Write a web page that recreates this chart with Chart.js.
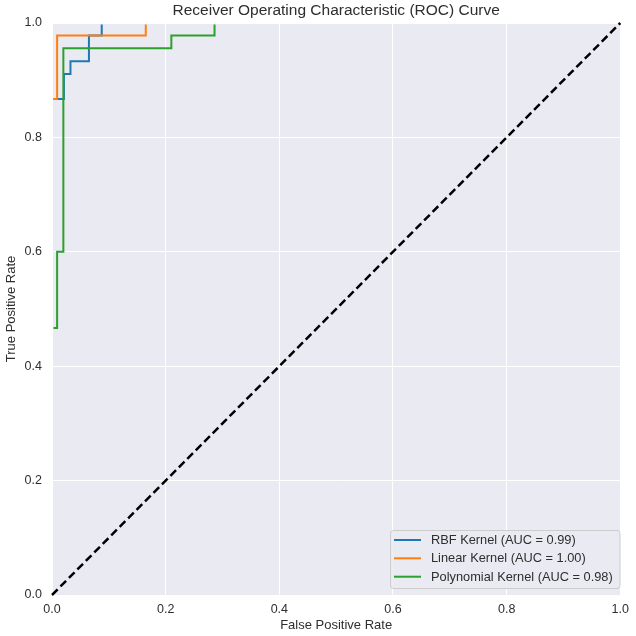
<!DOCTYPE html>
<html>
<head>
<meta charset="utf-8">
<script src="https://cdn.jsdelivr.net/npm/chart.js@4"></script>
<style>
  html, body { margin: 0; padding: 0; background: #ffffff; }
  #wrap { width: 636px; height: 636px; }
</style>
</head>
<body>
<div id="wrap"><canvas id="c" width="636" height="636"></canvas></div>
<script>
// ROC curve data
const rbfFPR = [0, 0, 0.021, 0.021, 0.0325, 0.0325, 0.065, 0.065, 0.0875, 0.0875, 1];
const rbfTPR = [0, 0.867, 0.867, 0.911, 0.911, 0.933, 0.933, 0.978, 0.978, 1, 1];
const linFPR = [0, 0, 0.009, 0.009, 0.165, 0.165, 1];
const linTPR = [0, 0.867, 0.867, 0.978, 0.978, 1, 1];
const polyFPR = [0, 0, 0.009, 0.009, 0.02, 0.02, 0.21, 0.21, 0.286, 0.286, 1];
const polyTPR = [0, 0.467, 0.467, 0.6, 0.6, 0.956, 0.956, 0.978, 0.978, 1, 1];
const diagFPR = [0, 1];
const diagTPR = [0, 1];
const seriesLabels = ['RBF Kernel (AUC = 0.99)', 'Linear Kernel (AUC = 1.00)', 'Polynomial Kernel (AUC = 0.98)'];
const tickValues = [0, 0.2, 0.4, 0.6, 0.8, 1.0];
const titleText = 'Receiver Operating Characteristic (ROC) Curve';
const xTitle = 'False Positive Rate';
const yTitle = 'True Positive Rate';

const FONT = '"Liberation Sans", Arial, Helvetica, sans-serif';
const TEXT = '#2e2e2e';
const COLORS = ['#1f77b4', '#ff7f0e', '#2ca02c'];

function pts(xs, ys) { return xs.map((x, i) => ({x: x, y: ys[i]})); }

const bgPlugin = {
  id: 'bg',
  beforeDraw(chart) {
    const {ctx, chartArea: a} = chart;
    ctx.save();
    ctx.fillStyle = '#eaeaf2';
    ctx.fillRect(a.left, a.top, a.right - a.left, a.bottom - a.top);
    ctx.restore();
  }
};

const textPlugin = {
  id: 'texts',
  afterDraw(chart) {
    const {ctx, chartArea: a} = chart;
    ctx.save();
    ctx.fillStyle = TEXT;
    // title
    ctx.font = '15.5px ' + FONT;
    ctx.textAlign = 'center';
    ctx.textBaseline = 'middle';
    ctx.fillText(titleText, (a.left + a.right) / 2, 11);
    // x title
    ctx.font = '13px ' + FONT;
    ctx.fillText(xTitle, (a.left + a.right) / 2, 625);
    // y title
    ctx.save();
    ctx.translate(11.5, (a.top + a.bottom) / 2);
    ctx.rotate(-Math.PI / 2);
    ctx.fillText(yTitle, 0, 0);
    ctx.restore();

    // legend
    const bx = 390.5, by = 530.5, bw = 229.5, bh = 58;
    ctx.beginPath();
    if (ctx.roundRect) ctx.roundRect(bx, by, bw, bh, 3); else ctx.rect(bx, by, bw, bh);
    ctx.fillStyle = 'rgba(234,234,242,0.8)';
    ctx.fill();
    ctx.strokeStyle = '#cccccc';
    ctx.lineWidth = 1;
    ctx.stroke();
    ctx.font = '12.8px ' + FONT;
    ctx.textAlign = 'left';
    ctx.textBaseline = 'middle';
    const rows = [540, 558.3, 576.7];
    for (let i = 0; i < 3; i++) {
      ctx.strokeStyle = COLORS[i];
      ctx.lineWidth = 2;
      ctx.beginPath();
      ctx.moveTo(394, rows[i]);
      ctx.lineTo(421, rows[i]);
      ctx.stroke();
      ctx.fillStyle = TEXT;
      ctx.fillText(chart.data.datasets[i].label, 431, rows[i] + 0.5);
    }
    ctx.restore();
  }
};

const lineDs = (label, xs, ys, color, order) => ({
  label: label,
  data: pts(xs, ys),
  showLine: true,
  borderColor: color,
  backgroundColor: color,
  borderWidth: 2,
  pointRadius: 0,
  pointHoverRadius: 0,
  tension: 0,
  fill: false,
  order: order,
  clip: { left: -1.5, top: -1.5, right: 0, bottom: 0 }
});

const diag = lineDs('diag', diagFPR, diagTPR, '#000000', 0);
diag.borderDash = [8, 4];
diag.borderWidth = 2.5;
diag.clip = 2;

new Chart(document.getElementById('c'), {
  type: 'scatter',
  data: {
    datasets: [
      lineDs(seriesLabels[0], rbfFPR, rbfTPR, COLORS[0], 3),
      lineDs(seriesLabels[1], linFPR, linTPR, COLORS[1], 2),
      lineDs(seriesLabels[2], polyFPR, polyTPR, COLORS[2], 1),
      diag
    ]
  },
  options: {
    responsive: false,
    animation: false,
    devicePixelRatio: 1,
    layout: { padding: { top: 23, right: 10, left: 0, bottom: 0 } },
    plugins: {
      legend: { display: false },
      title: { display: false },
      tooltip: { enabled: false }
    },
    scales: {
      x: {
        type: 'linear',
        min: 0, max: 1,
        afterFit(s) { s.height = 41; },
        afterBuildTicks(s) { s.ticks = tickValues.map(v => ({value: v})); },
        grid: { color: '#ffffff', lineWidth: 1, drawTicks: false },
        border: { display: false },
        ticks: {
          padding: 7,
          color: TEXT,
          font: { family: FONT, size: 12.5 },
          callback: v => v.toFixed(1)
        }
      },
      y: {
        type: 'linear',
        min: 0, max: 1,
        afterFit(s) { s.width = 52; },
        afterBuildTicks(s) { s.ticks = tickValues.map(v => ({value: v})); },
        grid: { color: '#ffffff', lineWidth: 1, drawTicks: false },
        border: { display: false },
        ticks: {
          padding: 10,
          color: TEXT,
          font: { family: FONT, size: 12.5 },
          callback: v => v.toFixed(1)
        }
      }
    }
  },
  plugins: [bgPlugin, textPlugin]
});
</script>
</body>
</html>
